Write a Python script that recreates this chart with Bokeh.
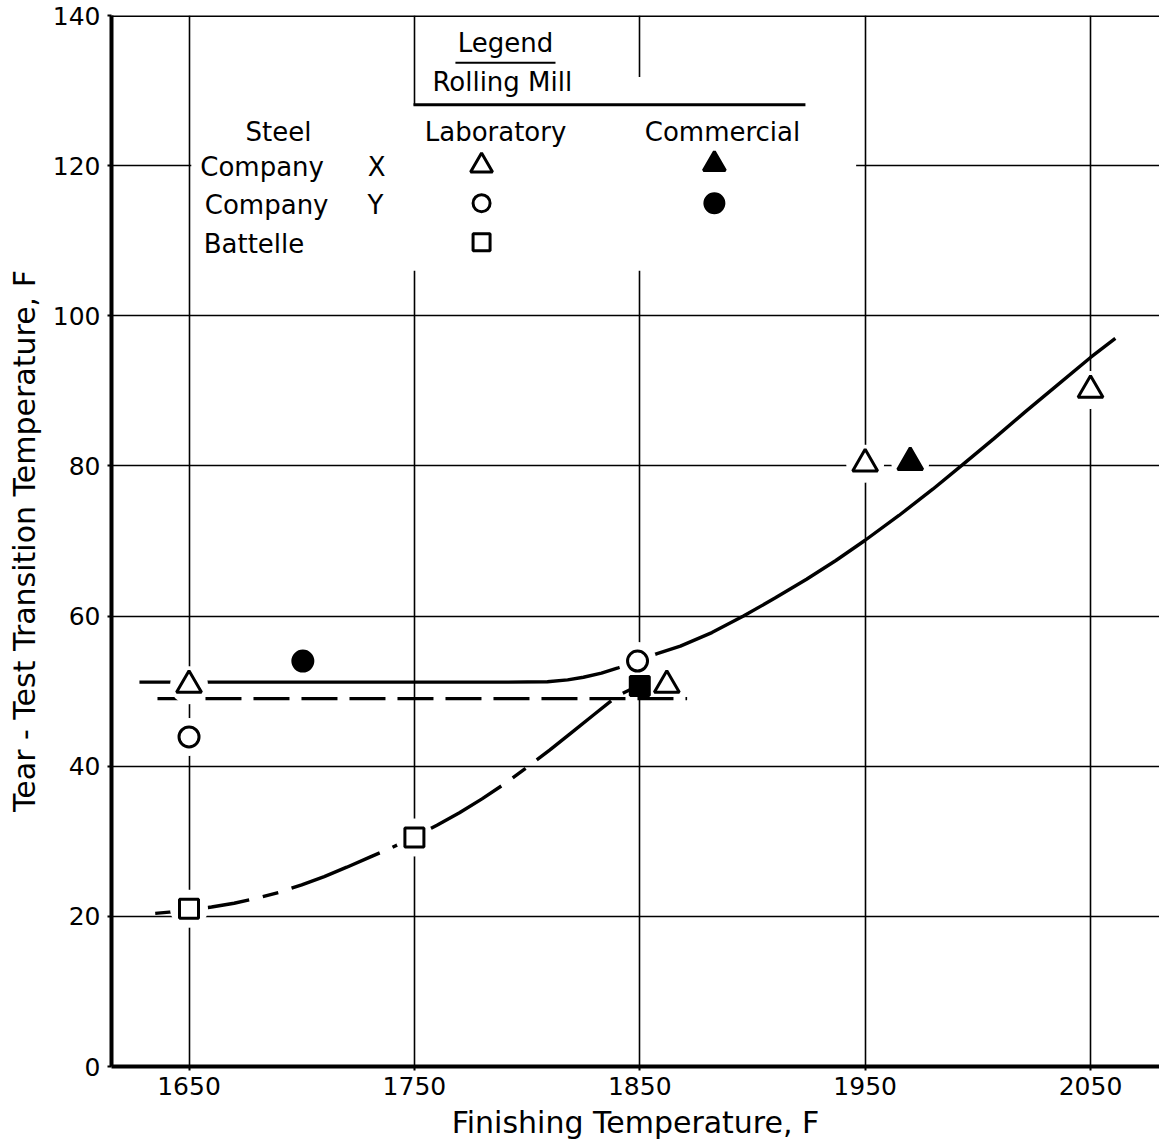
from bokeh.plotting import figure
from bokeh.models import FixedTicker, Span, Label, Range1d
from bokeh.embed import file_html
from bokeh.resources import INLINE

# ---------------- data ----------------
x_ticks = [1650, 1750, 1850, 1950, 2050]
y_ticks = [0, 20, 40, 60, 80, 100, 120, 140]

# Company X, laboratory mill (open triangles)
cox_lab_x = [1650, 1862, 1950, 2050]
cox_lab_y = [50.8, 50.8, 80.3, 90.1]
# Company X, commercial mill (filled triangle)
cox_com_x = [1970]
cox_com_y = [80.5]
# Company Y, laboratory mill (open circles)
coy_lab_x = [1650, 1849]
coy_lab_y = [43.9, 54.0]
# Company Y, commercial mill (filled circle)
coy_com_x = [1700.5]
coy_com_y = [54.0]
# Battelle, laboratory mill (open squares)
bat_lab_x = [1650, 1750]
bat_lab_y = [21.0, 30.5]
# filled square
bat_com_x = [1850]
bat_com_y = [50.7]

# solid curve
solid_x = [1628, 1660, 1700, 1750, 1790, 1809, 1818, 1825, 1833, 1840, 1848.5, 1857.7,
           1868, 1882, 1896, 1910, 1924, 1937, 1950, 1965, 1980, 1993, 2007,
           2021, 2035, 2050, 2061]
solid_y = [51.2, 51.2, 51.2, 51.2, 51.2, 51.25, 51.5, 51.85, 52.4, 53.05, 54.0, 55.0,
           56.0, 57.8, 60.0, 62.4, 64.9, 67.4, 70.1, 73.4, 76.9, 80.1, 83.6,
           87.2, 90.7, 94.45, 97.0]
# horizontal dashed line
dash_x = [1636, 1871]
dash_y = [49.0, 49.0]
# lower long-short dashed curve (Battelle)
bat_curve_x = [1635, 1650, 1660, 1670, 1680, 1690, 1700, 1710, 1720, 1730, 1740,
               1750, 1760, 1770, 1780, 1790, 1800, 1810, 1820, 1830, 1840, 1849.5]
bat_curve_y = [20.4, 20.8, 21.25, 21.75, 22.4, 23.2, 24.2, 25.3, 26.55, 27.85, 29.15,
               30.6, 32.15, 33.8, 35.65, 37.65, 39.85, 42.15, 44.55, 46.95, 49.35, 50.75]

FONT = "DejaVu Sans"

p = figure(width=1159, height=1142,
           x_range=Range1d(1615.6, 2080.6), y_range=Range1d(0, 140),
           output_backend="svg", toolbar_location=None,
           min_border_left=111, min_border_right=0,
           min_border_top=15, min_border_bottom=76)
p.outline_line_color = None
p.background_fill_color = "white"

# grid
p.xgrid.ticker = FixedTicker(ticks=x_ticks)
p.ygrid.ticker = FixedTicker(ticks=[t for t in y_ticks if 0 < t < 140])
for g in (p.xgrid[0], p.ygrid[0]):
    g.grid_line_color = "black"
    g.grid_line_width = 1.6
    g.grid_line_alpha = 1.0

# axes
p.xaxis.ticker = FixedTicker(ticks=x_ticks)
p.yaxis.ticker = FixedTicker(ticks=y_ticks)
for ax in (p.xaxis[0], p.yaxis[0]):
    ax.axis_line_color = "black"
    ax.axis_line_width = 4
    ax.major_tick_line_color = "black"
    ax.major_tick_line_width = 2
    ax.major_tick_out = 4
    ax.major_tick_in = 0
    ax.minor_tick_line_color = None
    ax.major_label_text_font = FONT
    ax.major_label_text_font_size = "25px"
    ax.major_label_text_color = "black"
    ax.axis_label_text_font = FONT
    ax.axis_label_text_font_size = "30px"
    ax.axis_label_text_font_style = "normal"
    ax.axis_label_text_color = "black"
p.xaxis.axis_label = "Finishing Temperature, F"
p.yaxis.axis_label = "Tear - Test Transition Temperature, F"
p.xaxis.major_label_standoff = 6
p.xaxis.axis_label_standoff = 7
p.yaxis.major_label_standoff = 7
p.yaxis.axis_label_standoff = 8

# top border
p.add_layout(Span(location=140, dimension="width", line_color="black", line_width=3))

# white masks behind the legend block (interrupt the grid)
p.quad(left=[1651, 1751, 1849], right=[1946, 1849, 1946],
       bottom=[106.0, 128.0, 128.0], top=[128.0, 136.3, 131.8],
       fill_color="white", line_color=None)

# curves
p.line(solid_x, solid_y, line_color="black", line_width=3.4)
p.line(dash_x, dash_y, line_color="black", line_width=3.4, line_dash="36 12")
p.line(bat_curve_x, bat_curve_y, line_color="black", line_width=3.4,
       line_dash="95 14 16 14")

# white halos that break lines/grid around the data points
halo_x = [cox_lab_x[0], cox_lab_x[2], cox_lab_x[3]] + cox_com_x + coy_lab_x + coy_com_x + bat_lab_x
halo_y = [cox_lab_y[0], cox_lab_y[2], cox_lab_y[3]] + cox_com_y + coy_lab_y + coy_com_y + bat_lab_y
p.scatter(halo_x, halo_y, marker="circle", size=38, fill_color="white", line_color=None)

# data markers
MK = dict(line_color="black", line_width=3)
p.scatter(cox_lab_x, cox_lab_y, marker="triangle", size=25, fill_color="white", **MK)
p.scatter(cox_com_x, cox_com_y, marker="triangle", size=25, fill_color="black", **MK)
p.scatter(coy_lab_x, coy_lab_y, marker="circle", size=20, fill_color="white", **MK)
p.scatter(coy_com_x, coy_com_y, marker="circle", size=20, fill_color="black", **MK)
p.scatter(bat_lab_x, bat_lab_y, marker="square", size=19, fill_color="white", **MK)
p.scatter(bat_com_x, bat_com_y, marker="square", size=19, fill_color="black", **MK)

# ---------------- legend block ----------------
def lab(x, y, text, align="center"):
    p.add_layout(Label(x=x, y=y, text=text, text_align=align, text_baseline="middle",
                       text_font=FONT, text_font_size="26px", text_color="black"))

lab(1790.4, 136.4, "Legend")
lab(1789.0, 131.1, "Rolling Mill")
lab(1689.7, 124.5, "Steel")
lab(1786.0, 124.5, "Laboratory")
lab(1886.7, 124.5, "Commercial")
lab(1655.0, 119.8, "Company", "left")
lab(1733.2, 119.8, "X")
lab(1657.0, 114.7, "Company", "left")
lab(1732.7, 114.7, "Y")
lab(1656.5, 109.6, "Battelle", "left")

p.line([1768.2, 1812.6], [133.7, 133.7], line_color="black", line_width=2)
p.line([1749.6, 1923.5], [128.1, 128.1], line_color="black", line_width=3)

p.scatter([1779.8], [120.0], marker="triangle", size=22, fill_color="white", **MK)
p.scatter([1883.1], [120.2], marker="triangle", size=22, fill_color="black", **MK)
p.scatter([1779.8], [115.0], marker="circle", size=17, fill_color="white", **MK)
p.scatter([1883.1], [115.0], marker="circle", size=19, fill_color="black", **MK)
p.scatter([1779.8], [109.8], marker="square", size=17, fill_color="white", **MK)

open("out.html", "w").write(file_html(p, INLINE))
